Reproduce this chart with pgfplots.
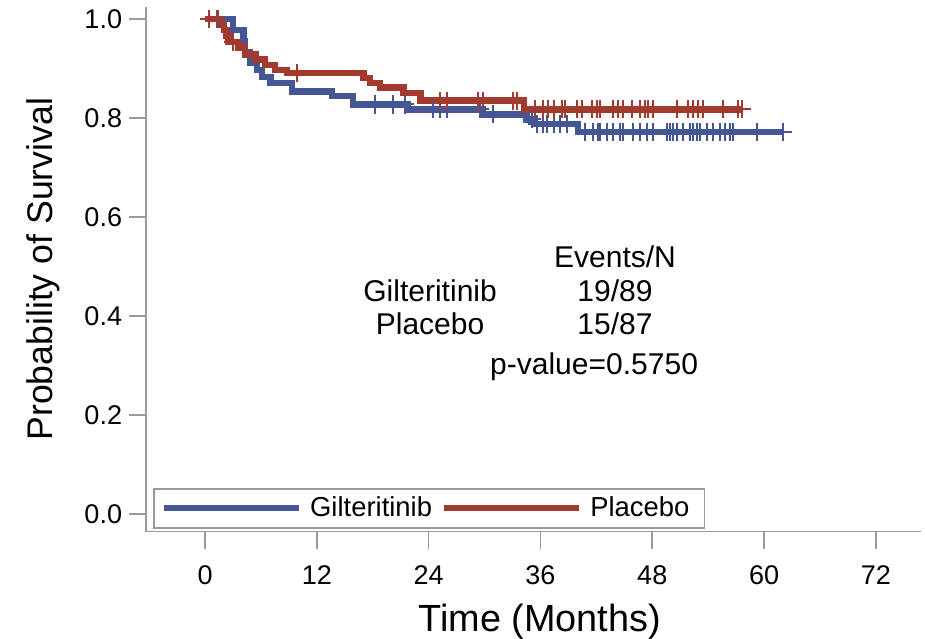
\documentclass[border=0pt]{standalone}
\usepackage{fontspec}
\setmainfont{Liberation Sans}
\usepackage{pgfplots}
\pgfplotsset{compat=1.18}
\definecolor{gblue}{HTML}{445694}
\definecolor{gred}{HTML}{A23A2E}
\definecolor{axgray}{HTML}{9A9A9A}
\begin{document}
\begin{tikzpicture}
\begin{axis}[name=ax, scale only axis, width=387pt, height=262pt,
  xmin=-6.33, xmax=76.85, ymin=-0.036, ymax=1.024,
  axis lines*=left,
  axis line style={axgray, line width=0.8pt},
  xtick={0,12,24,36,48,60,72},
  ytick={0,0.2,0.4,0.6,0.8,1.0},
  yticklabel style={/pgf/number format/.cd, fixed, fixed zerofill, precision=1},
  /pgf/number format/assume math mode=true,
  tick align=outside, major tick length=8.5pt,
  tick style={axgray, line width=0.8pt},
  ticklabel style={font=\fontsize{13.5}{15}\selectfont, text=black},
  xticklabel style={yshift=-5pt},
  xlabel={Time (Months)}, ylabel={Probability of Survival},
  xlabel style={font=\fontsize{18.9}{21}\selectfont, at={(axis description cs:0.508,-0.172)}, anchor=center},
  ylabel style={font=\fontsize{17.8}{20}\selectfont, at={(axis description cs:-0.133,0.5)}, anchor=center},
  legend columns=2,
  legend image code/.code={\draw[#1, line width=3pt] (0pt,0pt) -- (67.5pt,0pt);},
  legend style={at={(axis description cs:0,0)}, anchor=south west, xshift=3.5pt, yshift=1.5pt,
    draw=axgray, line width=0.8pt, inner xsep=3.5pt, inner ysep=1.5pt,
    font=\fontsize{13.7}{15}\selectfont,
    nodes={inner xsep=4pt, inner ysep=2.5pt},
    /tikz/every even column/.append style={column sep=0.5pt}},
]
% Gilteritinib
\addplot[const plot, gblue, line width=3.2pt] coordinates {
(0,1.0) (3.0,0.977) (4.1,0.955) (4.3,0.932) (4.8,0.911) (5.6,0.897) (6.1,0.883)
(7.0,0.871) (9.3,0.853) (13.6,0.844) (15.9,0.827) (21.8,0.817) (29.8,0.807)
(34.5,0.797) (35.3,0.787) (40.0,0.772) (62.0,0.772)};
\addlegendentry{Gilteritinib}
% Placebo
\addplot[const plot, gred, line width=3.2pt] coordinates {
(0,1.0) (1.6,0.988) (2.0,0.977) (2.3,0.965) (2.5,0.953) (3.5,0.942) (4.3,0.928)
(5.4,0.918) (6.4,0.907) (7.5,0.897) (8.8,0.891) (17.0,0.880) (17.7,0.870)
(18.8,0.861) (21.3,0.850) (23.1,0.835) (34.2,0.817) (57.6,0.817)};
\addlegendentry{Placebo}
% censored Gilteritinib
\addplot[forget plot, only marks, mark=+, mark size=4.5pt, gblue, line width=1pt] coordinates {
(1.3,1.0) (18.2,0.827) (20.2,0.827) (21.5,0.827) (24.5,0.817) (25.2,0.817) (26.0,0.817)
(29.5,0.817) (30.9,0.807) (35.1,0.797) (35.6,0.787) (36.3,0.787) (36.7,0.787)
(37.4,0.787) (38.1,0.787) (38.9,0.787) (40.8,0.772) (41.6,0.772) (42.2,0.772)
(42.4,0.772) (43.1,0.772) (43.8,0.772) (44.5,0.772) (44.9,0.772) (45.9,0.772)
(46.7,0.772) (47.4,0.772) (48.1,0.772) (49.6,0.772) (49.9,0.772) (50.2,0.772)
(50.7,0.772) (51.3,0.772) (52.1,0.772) (52.4,0.772) (52.8,0.772) (53.1,0.772)
(53.9,0.772) (54.5,0.772) (55.3,0.772) (55.8,0.772) (56.3,0.772) (56.7,0.772)
(59.2,0.772) (62.0,0.772)};
% censored Placebo
\addplot[forget plot, only marks, mark=+, mark size=4.5pt, gred, line width=1pt] coordinates {
(0.4,1.0) (1.4,1.0) (3.0,0.953) (9.9,0.891) (25.2,0.835) (26.0,0.835) (29.3,0.835)
(29.8,0.835) (33.1,0.835) (33.5,0.835) (35.4,0.817) (36.3,0.817) (36.8,0.817)
(37.4,0.817) (38.3,0.817) (38.6,0.817) (39.9,0.817) (40.5,0.817) (41.5,0.817)
(42.1,0.817) (42.4,0.817) (43.8,0.817) (44.3,0.817) (44.9,0.817) (45.8,0.817)
(46.7,0.817) (47.2,0.817) (47.5,0.817) (48.1,0.817) (50.7,0.817) (51.8,0.817)
(52.4,0.817) (52.9,0.817) (53.5,0.817) (55.6,0.817) (57.2,0.817) (57.6,0.817)};
\node[font=\fontsize{15}{17}\selectfont] at (axis cs:44.0,0.519) {Events/N};
\node[font=\fontsize{15}{17}\selectfont] at (axis cs:24.15,0.451) {Gilteritinib};
\node[font=\fontsize{15}{17}\selectfont] at (axis cs:44.0,0.451) {19/89};
\node[font=\fontsize{15}{17}\selectfont] at (axis cs:24.15,0.384) {Placebo};
\node[font=\fontsize{15}{17}\selectfont] at (axis cs:44.0,0.384) {15/87};
\node[font=\fontsize{15}{17}\selectfont] at (axis cs:41.75,0.298) {p-value=0.5750};
\end{axis}
\pgfresetboundingbox
\path[use as bounding box] ([shift={(-73pt,-53.5pt)}]ax.south west) rectangle ([shift={(2pt,3.5pt)}]ax.north east);
\end{tikzpicture}
\end{document}
